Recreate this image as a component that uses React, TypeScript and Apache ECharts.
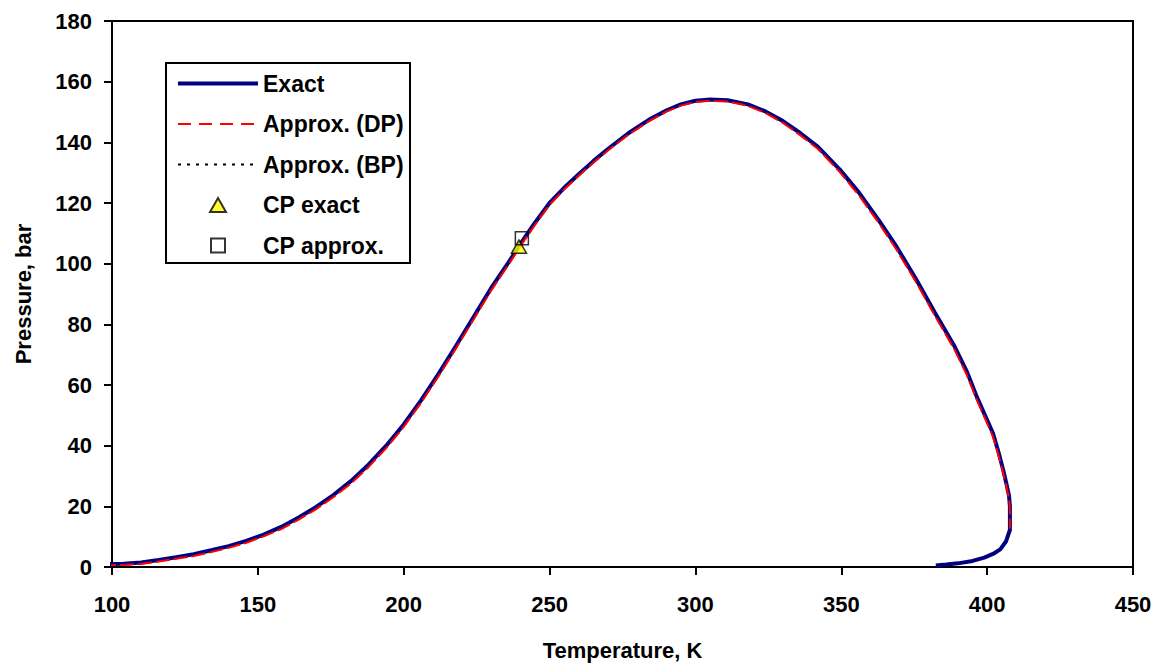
import React, { useEffect, useRef } from "react";
import * as echarts from "echarts";

// Exact phase envelope (Temperature K, Pressure bar)
const exactT = [96.6, 104, 110, 116, 122, 128, 134, 140, 146, 152, 158, 164, 170, 176, 182, 188, 194, 200, 206, 212, 218, 224, 230, 236, 240, 245, 250, 255, 260, 265, 270, 277, 284, 290, 295, 300, 305, 311, 318, 324, 330, 336, 342, 349.5, 356, 362.7, 369, 375.8, 382, 388.9, 393, 396.5, 399.5, 402, 404, 405.5, 406.6, 407.5, 407.8, 407.8, 406.5, 404.5, 402, 399, 395, 390, 386, 382.4];
const exactP = [0.9, 1.1, 1.5, 2.3, 3.2, 4.2, 5.5, 6.9, 8.6, 10.7, 13.2, 16.3, 19.8, 23.8, 28.4, 33.8, 40.0, 47.0, 55.0, 63.8, 73.0, 82.5, 92.0, 100.5, 106.5, 113.5, 120.0, 125.0, 129.5, 133.8, 137.8, 143.0, 147.4, 150.5, 152.5, 153.7, 154.1, 153.9, 152.5, 150.2, 147.0, 143.0, 138.5, 131.0, 123.5, 114.5, 105.5, 94.6, 84.0, 72.6, 64.5, 56.0, 49.5, 44.1, 37.5, 32.0, 27.5, 23.5, 20.0, 12.2, 8.5, 5.8, 4.3, 3.1, 2.0, 1.2, 0.8, 0.5];

// Approximate dew-point curve
const dpT = [96.6, 104, 110, 116, 122, 128, 134, 140, 146, 152, 158, 164, 170, 176, 182, 188, 194, 200, 206, 212, 218, 224, 230, 236, 240, 245, 250, 255, 260, 265, 270, 277, 284, 290, 295, 300, 305, 311, 318, 324, 330, 336, 342, 349.5, 356, 362.7, 369, 375.8, 382, 388.9, 393, 396.5, 399.5, 402, 404, 405.5, 406.6, 407.5, 407.8, 407.8];
const dpP = [0.5, 0.7, 1.0, 1.8, 2.7, 3.6, 4.9, 6.3, 8.0, 10.1, 12.5, 15.6, 19.1, 23.1, 27.6, 33.0, 39.2, 46.2, 54.2, 63.0, 72.2, 81.7, 91.2, 99.8, 105.8, 112.8, 119.4, 124.5, 129.0, 133.3, 137.3, 142.5, 146.9, 150.1, 152.1, 153.3, 153.7, 153.5, 152.0, 149.7, 146.4, 142.3, 137.8, 130.2, 122.6, 113.6, 104.5, 93.6, 83.0, 71.5, 63.4, 55.0, 48.5, 43.0, 36.5, 31.0, 26.6, 22.6, 19.2, 12.6];

// Approximate bubble-point curve
const bpT = [96.6, 104, 110, 116, 122, 128, 134, 140, 146, 152, 158, 164, 170, 176, 182, 188, 194, 200, 206, 212, 218, 224, 230, 236, 240.5];
const bpP = [0.9, 1.1, 1.5, 2.3, 3.2, 4.2, 5.5, 6.9, 8.6, 10.7, 13.2, 16.3, 19.8, 23.8, 28.4, 33.8, 40.0, 47.0, 55.0, 63.8, 73.0, 82.5, 92.0, 100.5, 108.4];

// Critical points
const cpExact = [239.5, 105.6];
const cpApprox = [240.5, 108.4];

const legendNames = ["Exact", "Approx. (DP)", "Approx. (BP)", "CP exact", "CP approx."];
const xTicks = { min: 100, max: 450, interval: 50 };
const yTicks = { min: 0, max: 180, interval: 20 };

const zip = (a: number[], b: number[]) => a.map((v, i) => [v, b[i]]);

const FONT = "'Liberation Sans', Arial, sans-serif";

export default function App() {
  const ref = useRef<HTMLDivElement>(null);
  useEffect(() => {
    document.body.style.margin = "0";
    const chart = echarts.init(ref.current!, null, { renderer: "svg" });
    const axisCommon = {
      axisLine: { show: true, lineStyle: { color: "#000", width: 2 } },
      axisTick: { show: true, inside: false, length: 8, lineStyle: { color: "#000", width: 2 } },
      splitLine: { show: false },
      nameLocation: "middle" as const,
      nameTextStyle: { fontFamily: FONT, fontWeight: "bold", fontSize: 22, color: "#000" },
    };
    const hiddenSymbol = { color: "transparent", borderColor: "transparent", borderWidth: 0 };
    chart.setOption({
      animation: false,
      backgroundColor: "#fff",
      grid: { left: 112, right: 32, top: 21, bottom: 103, show: true, borderColor: "#000", borderWidth: 2, backgroundColor: "transparent" },
      xAxis: {
        type: "value",
        ...xTicks,
        name: "Temperature, K",
        nameGap: 72,
        ...axisCommon,
        axisLabel: { margin: 26, fontFamily: FONT, fontWeight: "bold", fontSize: 22, color: "#000" },
      },
      yAxis: {
        type: "value",
        ...yTicks,
        name: "Pressure, bar",
        nameGap: 78,
        ...axisCommon,
        axisLabel: { margin: 20, fontFamily: FONT, fontWeight: "bold", fontSize: 22, color: "#000" },
      },
      legend: {
        orient: "vertical",
        left: 176,
        top: 72,
        itemWidth: 80,
        itemHeight: 16,
        itemGap: 17.5,
        padding: 0,
        symbolKeepAspect: true,
        data: [
          { name: legendNames[0], itemStyle: hiddenSymbol, lineStyle: { color: "#000080", width: 4, type: "solid" } },
          { name: legendNames[1], itemStyle: hiddenSymbol, lineStyle: { color: "#ff0000", width: 2, type: [13, 8] } },
          { name: legendNames[2], itemStyle: hiddenSymbol, lineStyle: { color: "#000", width: 2, type: [3, 6] } },
          { name: legendNames[3], icon: "path://M0,0M80,16M32,15L40,1L48,15Z" },
          { name: legendNames[4], icon: "path://M0,0M80,16M33,1L47,1L47,15L33,15Z" },
        ],
        textStyle: { fontFamily: FONT, fontWeight: "bold", fontSize: 23, color: "#000" },
        selectedMode: false,
      },
      graphic: [
        { type: "rect", left: 165, top: 62, z: 0, shape: { width: 244, height: 200 }, style: { fill: "transparent", stroke: "#000", lineWidth: 2 } },
      ],
      series: [
        {
          name: legendNames[2], type: "line", data: zip(bpT, bpP), showSymbol: false, symbol: "none", clip: false, z: 1,
          lineStyle: { color: "#000", width: 2, type: [3, 6] }, itemStyle: { color: "#000" },
        },
        {
          name: legendNames[0], type: "line", data: zip(exactT, exactP), showSymbol: false, symbol: "none", clip: false, z: 2,
          lineStyle: { color: "#000080", width: 4 }, itemStyle: { color: "#000080" },
        },
        {
          name: legendNames[1], type: "line", data: zip(dpT, dpP), showSymbol: false, symbol: "none", clip: false, z: 3,
          lineStyle: { color: "#ff0000", width: 2, type: [14, 4] }, itemStyle: { color: "#ff0000" },
        },
        {
          name: legendNames[3], type: "scatter", data: [cpExact], symbol: "triangle", symbolSize: [15, 13], z: 4,
          itemStyle: { color: "#ffff00", borderColor: "#000", borderWidth: 1.5 },
        },
        {
          name: legendNames[4], type: "scatter", data: [cpApprox], symbol: "rect", symbolSize: 13, z: 5,
          itemStyle: { color: "transparent", borderColor: "#000", borderWidth: 1.5 },
        },
      ],
    });
    return () => chart.dispose();
  }, []);
  return <div ref={ref} style={{ width: 1165, height: 670 }} />;
}
